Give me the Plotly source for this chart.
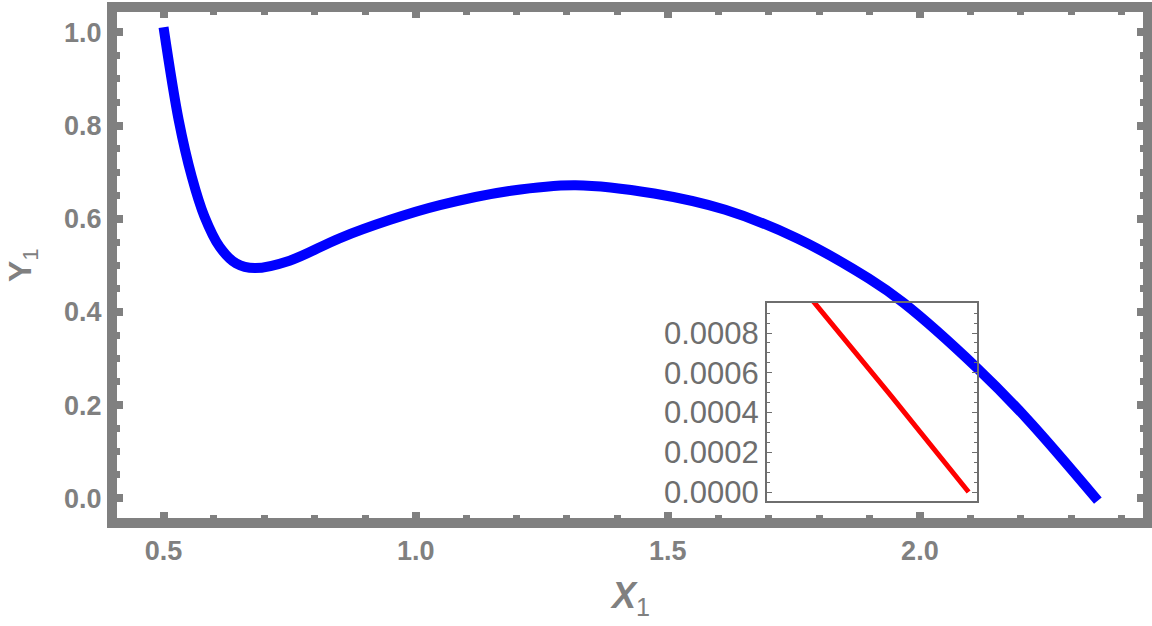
import plotly.graph_objects as go

# Main curve
x1 = [0.500, 0.530, 0.556, 0.581, 0.611, 0.644, 0.681, 0.750, 0.849, 0.948, 1.048,
      1.189, 1.317, 1.473, 1.614, 1.756, 1.898, 1.968, 2.113, 2.212, 2.353]
y1 = [1.011, 0.812, 0.690, 0.605, 0.540, 0.504, 0.494, 0.510, 0.558, 0.597, 0.629,
      0.660, 0.672, 0.654, 0.619, 0.558, 0.472, 0.419, 0.280, 0.171, -0.005]

# Inset: zoom on the end of the curve
x_inset = [2.35022, 2.35059, 2.35096]
y_inset = [0.00096, 0.000485, 0.0]

y_inset_ticks = [0.0, 0.0002, 0.0004, 0.0006, 0.0008]
y_inset_labels = ["0.0000", "0.0002", "0.0004", "0.0006", "0.0008"]

FRAME = "#808080"
INSET = "#6e6e6e"

fig = go.Figure()
fig.add_trace(go.Scatter(x=x1, y=y1, mode="lines", line=dict(color="#0000ff", width=10, shape="spline", smoothing=1.0),
                         showlegend=False, xaxis="x", yaxis="y"))
fig.add_trace(go.Scatter(x=x_inset, y=y_inset, mode="lines", line=dict(color="#ff0000", width=5),
                         showlegend=False, xaxis="x2", yaxis="y2"))

main_axis = dict(showline=True, linewidth=10, linecolor=FRAME, mirror="allticks", showgrid=False, zeroline=False,
                 automargin=False, ticks="inside", ticklen=6, tickwidth=8, tickcolor=FRAME,
                 tickfont=dict(family="Liberation Sans", size=27, color=FRAME, weight="bold"))

fig.update_layout(
    width=1152, height=626,
    margin=dict(l=117, r=9, t=12, b=108, autoexpand=False),
    paper_bgcolor="white", plot_bgcolor="rgba(0,0,0,0)",
    xaxis=dict(main_axis, range=[0.4077, 2.4425], domain=[0, 1], dtick=0.5, tick0=0, tickformat=".1f",
               minor=dict(dtick=0.1, ticks="inside", ticklen=3, tickwidth=7, tickcolor=FRAME)),
    yaxis=dict(main_axis, range=[-0.0423, 1.0436], domain=[0, 1], dtick=0.2, tick0=0, tickformat=".1f",
               minor=dict(dtick=0.05, ticks="inside", ticklen=3, tickwidth=7, tickcolor=FRAME)),
    xaxis2=dict(domain=[0.6335, 0.8382], anchor="y2", range=[2.3500, 2.3510], showline=True, linewidth=2,
                linecolor=INSET, mirror=True, showgrid=False, zeroline=False, automargin=False,
                ticks="", showticklabels=False),
    yaxis2=dict(domain=[0.0336, 0.4249], anchor="x2", range=[-0.0000453, 0.000951], showline=True, linewidth=2,
                linecolor=INSET, mirror="allticks", showgrid=False, zeroline=False, automargin=False,
                ticks="inside", ticklen=5, tickwidth=1, tickcolor=INSET,
                tickvals=y_inset_ticks, ticktext=y_inset_labels,
                tickfont=dict(family="Liberation Sans", size=31, color=INSET),
                minor=dict(dtick=0.00005, tick0=0, ticks="inside", ticklen=3, tickwidth=1, tickcolor=INSET)),
    annotations=[
        dict(text="<b><i>X</i></b><sub>1</sub>", xref="paper", yref="paper", x=0.5, y=0, xanchor="center",
             yanchor="middle", yshift=-80, showarrow=False,
             font=dict(family="Liberation Sans", size=36, color=FRAME)),
        dict(text="<b>Y</b><sub>1</sub>", xref="paper", yref="paper", x=0, y=0.5, xanchor="center",
             yanchor="middle", xshift=-95, textangle=-90, showarrow=False,
             font=dict(family="Liberation Sans", size=32, color=FRAME)),
    ],
)

# the page body has a default 8px margin; drop it so the figure sits at the top-left corner
fig.write_html("out.html", config={"displayModeBar": False},
               post_script="document.body.style.margin='0';")
